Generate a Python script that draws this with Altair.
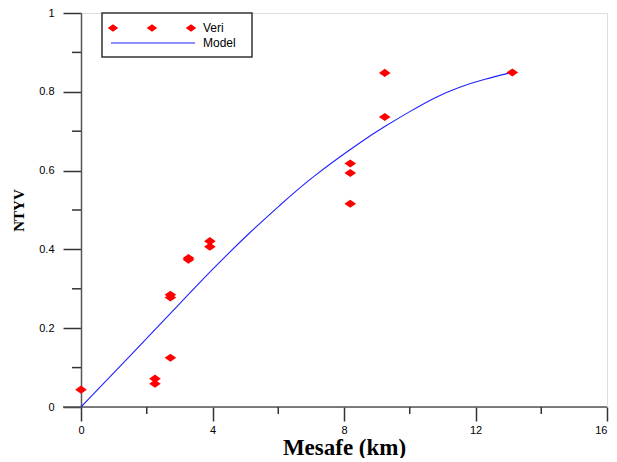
import altair as alt
import pandas as pd

# Observed data (Veri)
veri_x = [0, 2.25, 2.25, 2.72, 2.72, 2.72, 3.27, 3.27, 3.92, 3.92, 8.19, 8.19, 8.19, 9.24, 9.24, 13.12]
veri_y = [0.044, 0.072, 0.059, 0.125, 0.285, 0.278, 0.378, 0.374, 0.421, 0.407, 0.618, 0.594, 0.516, 0.848, 0.736, 0.849]

# Model curve
model_x = [0, 1.5, 3.0, 4.0, 5.14, 6.05, 6.96, 8.63, 9.24, 10.0, 10.76, 11.52, 12.28, 13.1]
model_y = [0, 0.13, 0.262, 0.35, 0.444, 0.512, 0.58, 0.68, 0.712, 0.75, 0.786, 0.813, 0.832, 0.849]

x_major = [0, 4, 8, 12, 16]
x_minor = [2, 6, 10, 14]
y_major = [0, 0.2, 0.4, 0.6, 0.8, 1]
y_minor = [0.1, 0.3, 0.5, 0.7, 0.9]

W, H = 526, 394
SANS = "Liberation Sans"
SERIF = "Liberation Serif"
DIAMOND = "M-1,0L0,-0.7L1,0L0,0.7Z"

veri = pd.DataFrame({"x": veri_x, "y": veri_y})
model = pd.DataFrame({"x": model_x, "y": model_y})

xscale = alt.Scale(domain=[0, 16], nice=False, zero=False)
yscale = alt.Scale(domain=[0, 1], nice=False, zero=False)

xaxis = alt.Axis(values=x_major, format="d", title="Mesafe (km)", domain=False, grid=False,
                 tickSize=14, tickColor="#333", tickWidth=1.5, labelPadding=3, labelFlush=False,
                 labelAlign={"expr": "datum.value == 16 ? 'right' : 'center'"},
                 labelFont=SANS, labelFontSize=11, labelColor="#000",
                 titleFont=SERIF, titleFontSize=23, titleFontWeight="bold", titleColor="#000",
                 titleX=263, titleY=40, titleBaseline="middle", titleAlign="center")
yaxis = alt.Axis(values=y_major, labelExpr="datum.value == 0 ? '0' : datum.value == 1 ? '1' : format(datum.value, '.1f')",
                 title="NTYV", domain=True, domainColor="#555", domainWidth=1.5, grid=False,
                 tickSize=18, tickColor="#333", tickWidth=1.5, labelPadding=9, labelFlush=False,
                 labelFont=SANS, labelFontSize=11, labelColor="#000",
                 titleFont=SERIF, titleFontSize=15, titleFontWeight="bold", titleColor="#000",
                 titleX=-63, titleY=197, titleAngle=-90, titleBaseline="middle", titleAlign="center")

line = alt.Chart(model).mark_line(color="#2020ff", strokeWidth=1.1, interpolate="basis").encode(
    x=alt.X("x:Q", scale=xscale, axis=xaxis),
    y=alt.Y("y:Q", scale=yscale, axis=yaxis),
)

pts = alt.Chart(veri).mark_point(shape=DIAMOND, filled=True, color="#ff0000", size=135, opacity=1).encode(
    x="x:Q", y="y:Q"
)

# x-axis baseline (extends left past the y axis)
xdomain = alt.Chart(alt.Data(values=[{}])).mark_rule(color="#555", strokeWidth=1.5).encode(
    x=alt.value(-18), x2=alt.value(W), y=alt.value(H)
)

xminor = alt.Chart(pd.DataFrame({"x": x_minor})).mark_rule(color="#333", strokeWidth=1.5).encode(
    x="x:Q", y=alt.value(H), y2=alt.value(H + 7)
)
yminor = alt.Chart(pd.DataFrame({"y": y_minor})).mark_rule(color="#333", strokeWidth=1.5).encode(
    y="y:Q", x=alt.value(-9), x2=alt.value(0)
)

# Legend
one = alt.Data(values=[{}])
leg_box = alt.Chart(one).mark_rect(fill="white", stroke="#333", strokeWidth=1.5).encode(
    x=alt.value(21), x2=alt.value(171), y=alt.value(0), y2=alt.value(44)
)
leg_pts = [
    alt.Chart(one).mark_point(shape=DIAMOND, filled=True, color="#ff0000", size=110, opacity=1).encode(
        x=alt.value(px), y=alt.value(15))
    for px in (32, 71, 110)
]
leg_line = alt.Chart(one).mark_rule(color="#2020ff", strokeWidth=1.1).encode(
    x=alt.value(30), x2=alt.value(114), y=alt.value(30)
)
leg_t1 = alt.Chart(one).mark_text(text="Veri", font=SANS, fontSize=12, align="left", baseline="middle", color="#000").encode(
    x=alt.value(122), y=alt.value(15))
leg_t2 = alt.Chart(one).mark_text(text="Model", font=SANS, fontSize=12, align="left", baseline="middle", color="#000").encode(
    x=alt.value(122), y=alt.value(30))

chart = alt.layer(
    xdomain, xminor, yminor, line, pts, leg_box, *leg_pts, leg_line, leg_t1, leg_t2
).properties(
    width=W, height=H,
    autosize=alt.AutoSizeParams(type="none"),
    padding={"left": 73, "top": 5, "right": 2, "bottom": 51},
).configure_view(stroke=None, strokeWidth=0).configure(background="white")

chart.save("out.html", embed_options={"renderer": "svg", "actions": False})
